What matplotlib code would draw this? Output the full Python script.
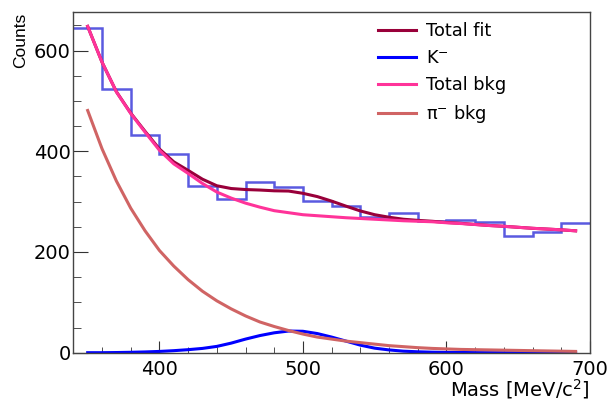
import numpy as np
import matplotlib
matplotlib.use("Agg")
import matplotlib.pyplot as plt
from matplotlib.ticker import MultipleLocator

plt.rcParams['font.family'] = ['DejaVu Sans']
plt.rcParams['mathtext.fontset'] = 'dejavusans'

# Binned data: 20 MeV/c^2 bins from 340 to 700
bin_edges = np.arange(340, 701, 20)
counts = [645, 523, 432, 395, 332, 306, 339, 330, 302, 291,
          270, 278, 262, 263, 260, 232, 240, 257]

# Fit components sampled every 10 MeV/c^2 from 350 to 690
mass = np.arange(350, 691, 10)
total_bkg = [648, 577, 518, 475, 438, 402, 375, 356, 336, 319,
             307, 297, 289, 282, 278, 274, 272, 270, 268, 266.5,
             265, 263.5, 262, 261, 260, 258, 256.5, 254.5, 252.5, 251,
             249, 247, 245.5, 244, 242]
pi_bkg = [481, 405, 341, 287, 242, 203, 172, 145, 122, 103,
          87, 73, 61, 52, 44, 37, 31, 27, 23, 20,
          17, 14, 12, 10, 8.5, 7.5, 6.5, 6, 5.5, 5,
          4.5, 4, 3.5, 3, 2.5]
kaon = [0, 0, 0.3, 0.8, 1.5, 2.5, 4, 6, 8.5, 12.5,
        19, 27, 34, 39.5, 43, 42.5, 38, 31, 23, 15,
        9, 5.5, 3, 1.8, 1, 0.6, 0.4, 0.2, 0.1, 0,
        0, 0, 0, 0, 0]
total_fit = np.array(total_bkg) + np.array(kaon)

fig = plt.figure(figsize=(6.12, 4.04), dpi=100)
ax = fig.add_axes([0.1198, 0.127, 0.8442, 0.8426])

ax.stairs(counts, bin_edges, baseline=None, color='#5a5ae0', lw=1.8)
ax.plot(mass, total_fit, color='#99003a', lw=2.2, label='Total fit')
ax.plot(mass, kaon, color='#0000ff', lw=2.2, label=r'K$^{-}$')
ax.plot(mass, total_bkg, color='#ff3399', lw=2.2, label='Total bkg')
ax.plot(mass, pi_bkg, color='#d06464', lw=2.2, label=r'π$^{-}$ bkg')

ax.set_xlim(340, 700)
ax.set_ylim(0, 676)

ax.xaxis.set_major_locator(MultipleLocator(100))
ax.xaxis.set_minor_locator(MultipleLocator(20))
ax.yaxis.set_major_locator(MultipleLocator(200))
ax.yaxis.set_minor_locator(MultipleLocator(50))
ax.tick_params(which='both', direction='in', top=False, right=False,
               labelsize=14, color='#333333')
ax.tick_params(axis='x', which='major', length=9, pad=5)
ax.tick_params(axis='x', which='minor', length=4.5)
ax.tick_params(axis='y', which='major', length=11, pad=2)
ax.tick_params(axis='y', which='minor', length=5.5)
for s in ax.spines.values():
    s.set_color('#444444')
    s.set_linewidth(1.0)

ax.set_xlabel(r'Mass [MeV/c$^{2}$]', fontsize=14, loc='right')
ax.xaxis.set_label_coords(1.0, -0.072)
ax.set_ylabel('Counts', fontsize=12.5, loc='top', family='Liberation Sans')
ax.yaxis.set_label_coords(-0.0875, 1.0)

ax.legend(loc='upper left', bbox_to_anchor=(0.59, 0.970), frameon=False,
          fontsize=12.8, handlelength=2.15, handletextpad=0.55,
          labelspacing=0.5, borderaxespad=0.0, borderpad=0.0)

fig.savefig('out.png', dpi=100)
